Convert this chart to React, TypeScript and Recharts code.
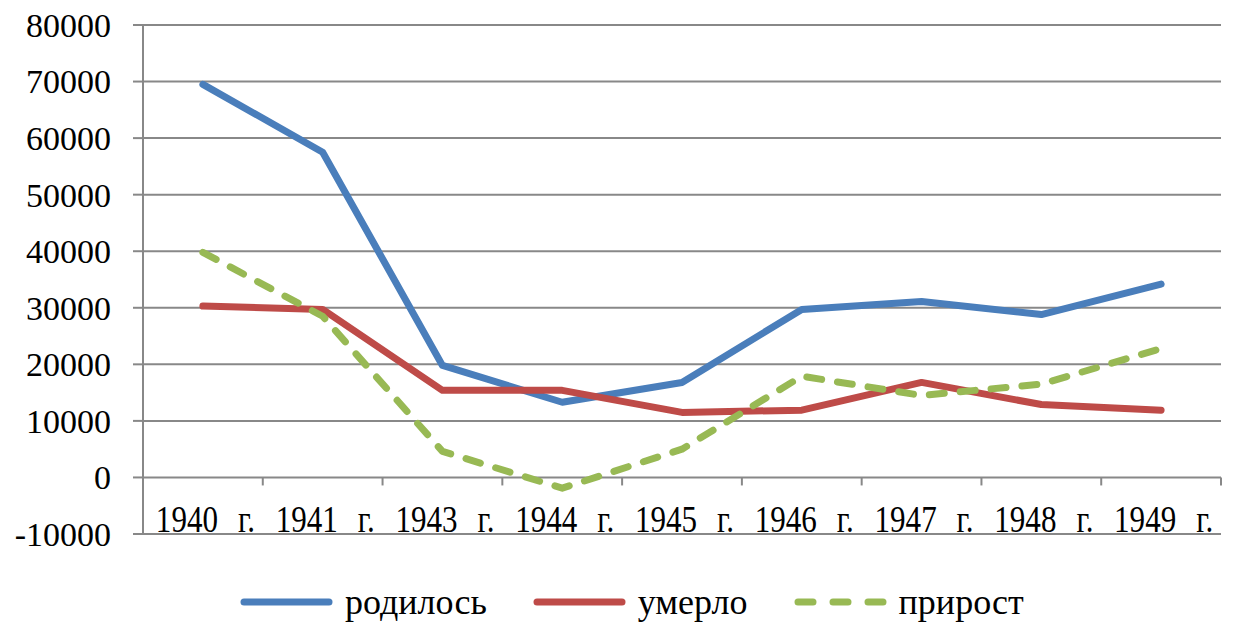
import { CartesianGrid, Legend, Line, LineChart, XAxis, YAxis } from 'recharts'

const years = ['1940 г.', '1941 г.', '1943 г.', '1944 г.', '1945 г.', '1946 г.', '1947 г.', '1948 г.', '1949 г.']
const born = [69500, 57500, 19800, 13300, 16800, 29700, 31100, 28800, 34200]
const died = [30300, 29700, 15400, 15400, 11500, 11900, 16800, 12900, 11900]
const growth = [39800, 28500, 4600, -1900, 5000, 17900, 14500, 16500, 22800]
const yTicks = [-10000, 0, 10000, 20000, 30000, 40000, 50000, 60000, 70000, 80000]

const data = years.map((year, i) => ({
  year,
  born: born[i],
  died: died[i],
  growth: growth[i],
}))

const W = 1234
const H = 626
const X_AXIS_H = 30
const margin = { top: 25, right: 13, bottom: 92 - X_AXIS_H, left: 0 }
const Y_MIN = -10000
const Y_MAX = 80000
const plotH = H - margin.top - margin.bottom - X_AXIS_H
// pixel row of the value 0, where the category axis sits
const zeroY = margin.top + (plotH * Y_MAX) / (Y_MAX - Y_MIN)

const FONT = '"Liberation Serif", "Times New Roman", serif'
const GRID = '#888888'
const BLUE = '#4a7ebb'
const RED = '#be4b48'
const GREEN = '#98b954'
const DASH = '15 16'
const LEGEND_DASH = '15 20'
const LINE_W = 7

const series = [
  { key: 'born', name: 'родилось', color: BLUE, dash: undefined },
  { key: 'died', name: 'умерло', color: RED, dash: undefined },
  { key: 'growth', name: 'прирост', color: GREEN, dash: DASH },
]

const YTick = ({ x, y, payload }: any) => (
  <text x={x} y={y} dy="0.35em" textAnchor="end" fontFamily={FONT} fontSize={34} fill="#000">
    {payload.value}
  </text>
)

const XTick = ({ x, payload, index }: any) => {
  const half = payload.offset || (W - 143 - margin.right) / years.length / 2
  const [num, suffix] = String(payload.value).split(' ')
  return (
    <g>
      <line x1={x - half} x2={x - half} y1={zeroY} y2={zeroY + 8} stroke={GRID} strokeWidth={2} />
      {index === years.length - 1 && (
        <line x1={x + half} x2={x + half} y1={zeroY} y2={zeroY + 8} stroke={GRID} strokeWidth={2} />
      )}
      <g transform={`translate(${x},${zeroY + 55}) scale(0.84,1)`}>
        <text x={-56} y={0} textAnchor="start" fontFamily={FONT} fontSize={37} fill="#000">
          {num}
        </text>
        <text x={62} y={0} textAnchor="end" fontFamily={FONT} fontSize={37} fill="#000">
          {suffix}
        </text>
      </g>
    </g>
  )
}

const LegendContent = () => (
  <div style={{ display: 'flex', alignItems: 'center', fontFamily: FONT, fontSize: 36, lineHeight: '38px' }}>
    {series.map((s, i) => (
      <div key={s.key} style={{ display: 'flex', alignItems: 'center', marginLeft: i === 0 ? 0 : 46 }}>
        <svg width={93} height={10}>
          <line
            x1={4}
            x2={89}
            y1={5}
            y2={5}
            stroke={s.color}
            strokeWidth={LINE_W}
            strokeLinecap="round"
            strokeDasharray={s.dash ? LEGEND_DASH : undefined}
          />
        </svg>
        <span style={{ marginLeft: 12, color: '#000' }}>{s.name}</span>
      </div>
    ))}
  </div>
)

export default function App() {
  return (
    <div style={{ position: 'absolute', left: 0, top: 0, width: W, height: H, background: '#fff' }}>
      <LineChart width={W} height={H} data={data} margin={margin}>
        <CartesianGrid vertical={false} stroke={GRID} strokeWidth={2} />
        <XAxis
          dataKey="year"
          scale="band"
          height={X_AXIS_H}
          axisLine={false}
          tickLine={false}
          interval={0}
          tick={XTick}
        />
        <YAxis
          width={143}
          domain={[Y_MIN, Y_MAX]}
          ticks={yTicks}
          interval={0}
          axisLine={{ stroke: GRID, strokeWidth: 2 }}
          tickLine={{ stroke: GRID, strokeWidth: 2 }}
          tickSize={10}
          tickMargin={22}
          tick={YTick}
        />
        <Legend
          verticalAlign="middle"
          layout="horizontal"
          align="center"
          content={LegendContent}
          wrapperStyle={{ top: 583, left: 240, bottom: 'auto', width: 1000 }}
        />
        {series.map((s) => (
          <Line
            key={s.key}
            dataKey={s.key}
            name={s.name}
            stroke={s.color}
            strokeWidth={LINE_W}
            strokeDasharray={s.dash}
            strokeLinecap="round"
            strokeLinejoin="round"
            dot={false}
            activeDot={false}
            isAnimationActive={false}
          />
        ))}
      </LineChart>
    </div>
  )
}
